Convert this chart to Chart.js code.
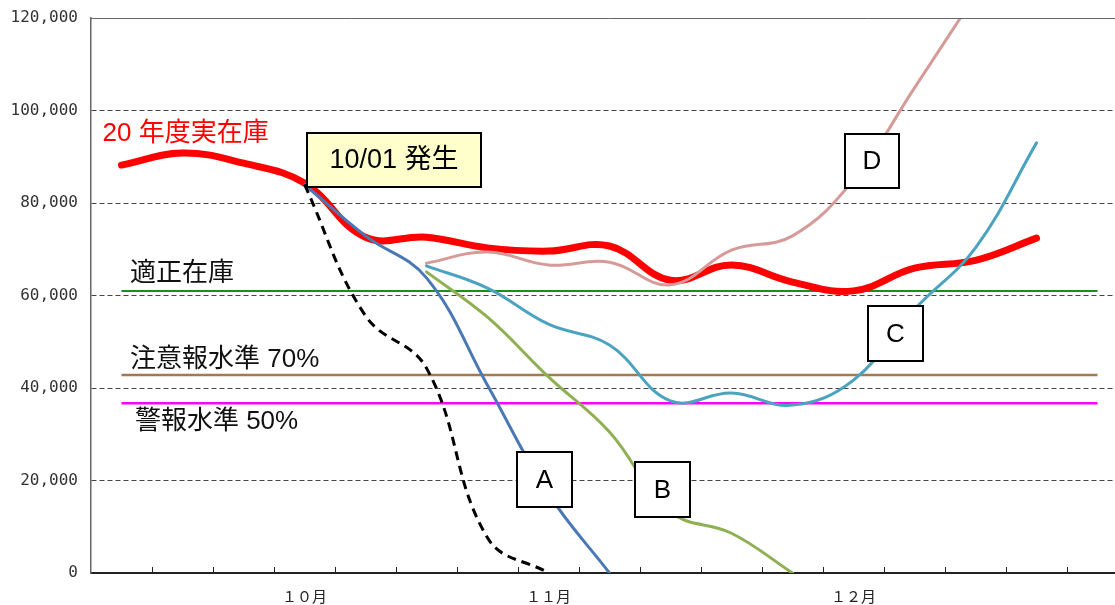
<!DOCTYPE html>
<html><head><meta charset="utf-8">
<script src="https://cdn.jsdelivr.net/npm/chart.js@4/dist/chart.umd.min.js"></script>
<style>
html,body{margin:0;padding:0;background:#fff;overflow:hidden;}
#wrap{width:1135px;height:605px;position:relative;}
</style></head><body>
<div id="wrap"><canvas id="c"></canvas></div>
<script>
// ---- data ----
const weeks = ['', '', '', '１０月', '', '', '', '１１月', '', '', '', '', '１２月', '', '', '', ''];
const yTicks = [0, 20000, 40000, 60000, 80000, 100000, 120000];
const actual2020 = [88200, 90800, 88600, 84300, 72600, 72600, 70300, 69600, 70700, 63300, 66600, 62900, 61000, 65900, 67600, 72400, null];
const worstCase  = [null, null, null, 84000, 55600, 44300, 7600, 0, null, null, null, null, null, null, null, null, null];
const caseA      = [null, null, null, 84000, 72900, 63800, 40600, 17100, 0, null, null, null, null, null, null, null, null];
const caseB      = [null, null, null, null, null, 65100, 55300, 42400, 30500, 13200, 8600, 0, null, null, null, null, null];
const caseC      = [null, null, null, null, null, 66400, 61600, 53800, 49300, 37200, 38900, 36300, 41700, 57000, 70300, 93000, null];
const caseD      = [null, null, null, null, null, 67000, 69400, 66600, 67200, 62300, 69800, 72900, 85000, 104900, 125000, null, null];
const optimalStock = [61000, 61000, 61000, 61000, 61000, 61000, 61000, 61000, 61000, 61000, 61000, 61000, 61000, 61000, 61000, 61000, 61000];
const caution70    = [42800, 42800, 42800, 42800, 42800, 42800, 42800, 42800, 42800, 42800, 42800, 42800, 42800, 42800, 42800, 42800, 42800];
const alarm50      = [36700, 36700, 36700, 36700, 36700, 36700, 36700, 36700, 36700, 36700, 36700, 36700, 36700, 36700, 36700, 36700, 36700];

// ---- annotations (anchored in data coordinates) ----
const TXT = '"Liberation Sans","Noto Sans CJK JP",sans-serif';
const notes = [
  {type:'text', text:'20 年度実在庫', p:-0.31, v:94900, color:'#ff0000'},
  {type:'text', text:'適正在庫', p:0.14, v:64650, color:'#111'},
  {type:'text', text:'注意報水準 70%', p:0.14, v:46050, color:'#111'},
  {type:'text', text:'警報水準 50%', p:0.22, v:32650, color:'#111'},
  {type:'box', text:'10/01 発生', p:4.467, v:89300, w:174, h:54, fill:'#ffffcc'},
  {type:'box', text:'A', p:6.934, v:20200, w:55, h:55, fill:'#ffffff'},
  {type:'box', text:'B', p:8.869, v:18050, w:55, h:55, fill:'#ffffff'},
  {type:'box', text:'C', p:12.689, v:51800, w:55, h:55, fill:'#ffffff'},
  {type:'box', text:'D', p:12.303, v:89100, w:54, h:54, fill:'#ffffff'}
];

const decor = {
  id: 'decor',
  afterDatasetsDraw(chart) {
    const {ctx, chartArea: a, scales: {x, y}} = chart;
    ctx.save();
    // top frame line
    ctx.strokeStyle = '#666'; ctx.lineWidth = 1;
    ctx.beginPath(); ctx.moveTo(a.left, a.top + 0.5); ctx.lineTo(a.right, a.top + 0.5); ctx.stroke();
    // inward tick marks on category boundaries
    ctx.strokeStyle = '#222'; ctx.lineWidth = 1;
    for (let i = 1; i <= weeks.length; i++) {
      const px = Math.round(x.getPixelForValue(i - 0.5)) + 0.5;
      ctx.beginPath(); ctx.moveTo(px, a.bottom); ctx.lineTo(px, a.bottom - 6); ctx.stroke();
    }
    ctx.textBaseline = 'middle';
    for (const n of notes) {
      const px = x.getPixelForValue(n.p), py = y.getPixelForValue(n.v);
      if (n.type === 'text') {
        ctx.font = '26px ' + TXT; ctx.fillStyle = n.color; ctx.textAlign = 'left';
        ctx.fillText(n.text, px, py);
      } else {
        const l = Math.round(px - n.w / 2), t = Math.round(py - n.h / 2);
        ctx.fillStyle = n.fill; ctx.fillRect(l, t, n.w, n.h);
        ctx.strokeStyle = '#000'; ctx.lineWidth = 2; ctx.strokeRect(l, t, n.w, n.h);
        ctx.font = (n.text.length > 1 ? '27px ' : '26px ') + TXT; ctx.fillStyle = '#000'; ctx.textAlign = 'center';
        ctx.fillText(n.text, l + n.w / 2, t + n.h / 2 + 1);
      }
    }
    ctx.restore();
  }
};

const line = (data, color, width, extra) => Object.assign({
  data, borderColor: color, borderWidth: width, pointRadius: 0, fill: false,
  tension: 0.4, spanGaps: false, clip: 0, borderCapStyle: 'round', borderJoinStyle: 'round'
}, extra || {});

new Chart(document.getElementById('c'), {
  type: 'line',
  data: {
    labels: weeks,
    datasets: [
      line(worstCase, '#000000', 3, {borderDash: [9, 6], borderCapStyle: 'butt'}),
      line(caseC, '#4ba3bf', 3),
      line(caseD, '#d69a98', 3),
      line(caseA, '#4a78b5', 3),
      line(caseB, '#8fb052', 3),
      line(actual2020, '#ff0000', 7),
      line(optimalStock, '#1f8a1f', 2, {tension: 0, borderCapStyle: 'butt'}),
      line(caution70, '#a27a4e', 2.5, {tension: 0, borderCapStyle: 'butt'}),
      line(alarm50, '#ff00ff', 2.5, {tension: 0, borderCapStyle: 'butt'})
    ]
  },
  options: {
    responsive: true, maintainAspectRatio: false, animation: false,
    layout: {padding: {top: 18, right: 7, left: 0, bottom: 0}},
    plugins: {legend: {display: false}, tooltip: {enabled: false}},
    scales: {
      x: {
        type: 'category', offset: true,
        grid: {display: false, drawTicks: false},
        border: {display: true, color: '#222', width: 2},
        ticks: {autoSkip: false, maxRotation: 0, padding: 14, color: '#222',
                font: {family: '"Noto Sans CJK JP", sans-serif', size: 15}},
        afterFit(s) { s.height = 32; s.paddingLeft = 0; s.paddingRight = 0; }
      },
      y: {
        min: 0, max: 120000,
        afterBuildTicks(s) { s.ticks = yTicks.map(v => ({value: v})); },
        grid: {
          drawTicks: false, lineWidth: 1,
          color: c => (c.tick && (c.tick.value === 0 || c.tick.value === 120000)) ? 'rgba(0,0,0,0)' : '#444'
        },
        border: {display: true, color: '#666', width: 1.5, dash: [5, 3]},
        ticks: {padding: 13, color: '#333', font: {family: '"DejaVu Sans Mono", monospace', size: 16},
                callback: v => v.toLocaleString('en-US')},
        afterFit(s) { s.width = 91; s.paddingTop = 0; s.paddingBottom = 0; }
      }
    }
  },
  plugins: [decor]
});
</script>
</body></html>
